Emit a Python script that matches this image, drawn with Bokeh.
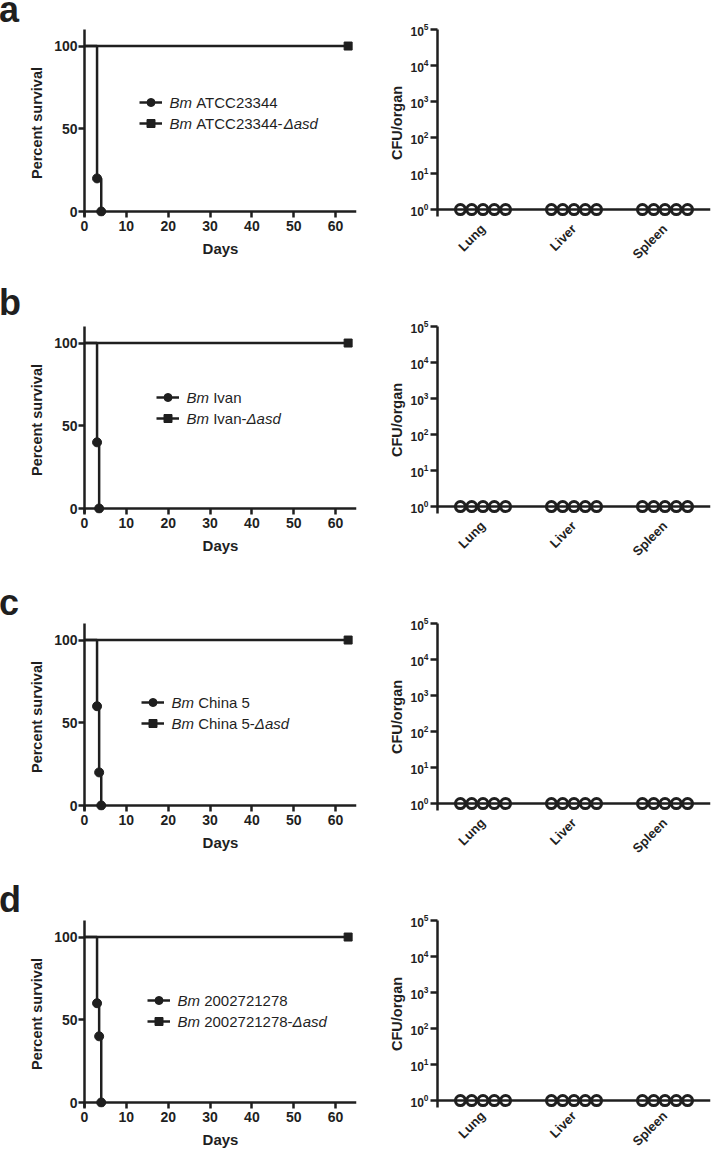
import math
from bokeh.plotting import figure
from bokeh.layouts import column, row
from bokeh.models import (Range1d, FixedTicker, Label, Legend, LegendItem, Span,
                          CustomJSTickFormatter, Div)
from bokeh.embed import file_html
from bokeh.resources import INLINE

# ---------------- data ----------------
panel_letters = ["a", "b", "c", "d"]
strains = ["ATCC23344", "Ivan", "China 5", "2002721278"]
wt_days = [[0, 3, 4], [0, 3, 3.5], [0, 3, 3.5, 4], [0, 3, 3.5, 4]]
wt_survival = [[100, 20, 0], [100, 40, 0], [100, 60, 20, 0], [100, 60, 40, 0]]
mut_days = [0, 63]
mut_survival = [100, 100]
day_ticks = [0, 10, 20, 30, 40, 50, 60]
survival_ticks = [0, 50, 100]
organs = ["Lung", "Liver", "Spleen"]
cfu_lung = [1, 1, 1, 1, 1]
cfu_liver = [1, 1, 1, 1, 1]
cfu_spleen = [1, 1, 1, 1, 1]
cfu_ticks = [1, 10, 100, 1000, 10000, 100000]

# ---------------- layout / style ----------------
FONT = "Liberation Sans"
INK = "#1f1f1f"
LW = 2.5
LETTER_W, LEFT_W, RIGHT_W = 26, 339, 346
LEFT_BORDER, RIGHT_BORDER = 57, 72
FRAME_W = 273
PAGE_H = 1150
fig_heights = [280, 297, 297, 292]      # last row runs past the page and is cropped
frame_top = [29, 46, 46, 46]
letter_baseline = [22, 35, 38, 38]
legend_x = [55, 72, 57, 63]
legend_row1 = [109, 111, 103, 102]
organ_label_standoff = [10, 10, 10, 6]
LEG_PITCH = 21
ZERO_PX = 182      # px from top of survival frame to 0 %
GAP_L = 5          # px of frame below 0 %
DEC_PX = 182 / 5   # px per decade on CFU axis
GAP_R = 7          # px of frame below 10^0
LEG_FS = 15
DODGE = 0.124
LETTER_FS = 36

ARIAL = {' ': 278, '-': 333, 'A': 667, 'B': 667, 'C': 722, 'T': 611, 'I': 278,
         'm': 833, 'h': 556, 'i': 222, 'n': 556, 'a': 556, 'v': 500, 's': 500,
         'd': 556, '\u0394': 667}
for _d in "0123456789":
    ARIAL[_d] = 556


def text_w(s, size):
    return sum(ARIAL.get(c, 556) for c in s) * size / 1000.0


def style_axes(p):
    p.outline_line_color = None
    p.xgrid.visible = False
    p.ygrid.visible = False
    for ax in (p.xaxis[0], p.yaxis[0]):
        ax.axis_line_width = LW
        ax.axis_line_color = INK
        ax.major_tick_line_width = LW
        ax.major_tick_line_color = INK
        ax.minor_tick_line_color = None
        ax.major_label_text_font = FONT
        ax.major_label_text_font_style = "bold"
        ax.major_label_text_color = INK
        ax.axis_label_text_font = FONT
        ax.axis_label_text_font_style = "bold"
        ax.axis_label_text_color = INK


def add_label(p, x, y, text, size, style="normal", baseline="middle"):
    p.add_layout(Label(x=x, y=y, x_units="screen", y_units="screen", text=text,
                       text_font=FONT, text_font_size=f"{size}px",
                       text_font_style=style, text_color=INK,
                       text_baseline=baseline, text_align="left"))


def letter_panel(k):
    H = fig_heights[k]
    base_shift = (0.905 - (0.905 + 0.212) / 2) * LETTER_FS
    pad = letter_baseline[k] - base_shift
    html = (f'<div style="font-family:\'{FONT}\';font-weight:bold;'
            f'font-size:{LETTER_FS}px;line-height:0px;padding-top:{pad:.1f}px;'
            f'margin:0 0 0 -1px;color:{INK}">{panel_letters[k]}</div>')
    return Div(text=html, width=LETTER_W, height=H, margin=0)


def survival_panel(k):
    H = fig_heights[k]
    ft = frame_top[k]
    fh = ZERO_PX + GAP_L
    ppu = ZERO_PX / 110.0
    p = figure(width=LEFT_W, height=H, title=None,
               x_range=Range1d(0, 65), y_range=Range1d(-GAP_L / ppu, 110),
               output_backend="svg", toolbar_location=None,
               min_border_left=LEFT_BORDER,
               min_border_right=LEFT_W - LEFT_BORDER - FRAME_W,
               min_border_top=ft, min_border_bottom=H - ft - fh)
    style_axes(p)
    p.xaxis.ticker = FixedTicker(ticks=day_ticks)
    p.yaxis.ticker = FixedTicker(ticks=survival_ticks)
    p.xaxis.axis_line_color = None
    p.xaxis.major_tick_in = GAP_L
    p.xaxis.major_tick_out = 1
    p.xaxis.major_label_standoff = 3
    p.xaxis.major_label_text_font_size = "14px"
    p.xaxis.axis_label = "Days"
    p.xaxis.axis_label_text_font_size = "15px"
    p.xaxis.axis_label_standoff = 6
    p.yaxis.major_tick_in = 0
    p.yaxis.major_tick_out = 6
    p.yaxis.major_label_standoff = 1
    p.yaxis.major_label_text_font_size = "14px"
    p.yaxis.axis_label = "Percent survival"
    p.yaxis.axis_label_text_font_size = "14.5px"
    p.yaxis.axis_label_standoff = 6
    p.add_layout(Span(location=0, dimension="width", line_color=INK,
                      line_width=LW, level="underlay"))

    wt_line = p.step(wt_days[k], wt_survival[k], mode="after", line_color=INK,
                     line_width=LW)
    wt_pts = p.scatter(wt_days[k][1:], wt_survival[k][1:], marker="circle", size=9,
                       color=INK)
    mut_line = p.line(mut_days, mut_survival, line_color=INK, line_width=LW)
    mut_pts = p.scatter(mut_days[-1:], mut_survival[-1:], marker="square", size=8,
                        color=INK)

    # legend samples
    r1 = legend_row1[k] + GAP_L
    leg = Legend(items=[LegendItem(label=" ", renderers=[wt_line, wt_pts]),
                        LegendItem(label=" ", renderers=[mut_line, mut_pts])],
                 location=(legend_x[k], r1 + 10 - (2 * 20 + 1)),
                 glyph_width=23, glyph_height=20, label_height=20, spacing=1,
                 padding=0, margin=0, border_line_color=None,
                 background_fill_alpha=0, label_text_font_size="10px",
                 label_standoff=0)
    p.add_layout(leg)

    # legend texts (mixed italic)
    pieces = [[("Bm", "italic"), (strains[k], "normal")],
              [("Bm", "italic"), (strains[k] + "-", "normal"), ("\u0394asd", "italic")]]
    for r, parts in enumerate(pieces):
        x = legend_x[k] + 30
        y = r1 - r * LEG_PITCH
        for i, (t, st) in enumerate(parts):
            add_label(p, x, y, t, LEG_FS, st)
            x += text_w(t, LEG_FS)
            if i == 0:
                x += text_w(" ", LEG_FS)
    return p


def cfu_panel(k):
    H = fig_heights[k]
    ft = frame_top[k]
    fh = 5 * DEC_PX + GAP_R
    p = figure(width=RIGHT_W, height=H, title=None, y_axis_type="log",
               x_range=Range1d(0.5, 3.5),
               y_range=Range1d(10 ** (-GAP_R / DEC_PX), 1e5),
               output_backend="svg", toolbar_location=None,
               min_border_left=RIGHT_BORDER,
               min_border_right=RIGHT_W - RIGHT_BORDER - FRAME_W,
               min_border_top=ft, min_border_bottom=int(round(H - ft - fh)))
    style_axes(p)
    p.yaxis.ticker = FixedTicker(ticks=cfu_ticks)
    p.yaxis.major_tick_in = 0
    p.yaxis.major_tick_out = 7
    p.yaxis.major_label_standoff = 2
    p.yaxis.major_label_text_font_size = "12px"
    p.yaxis.axis_label = "CFU/organ"
    p.yaxis.axis_label_text_font_size = "14.5px"
    p.yaxis.axis_label_standoff = 2

    p.xaxis.axis_line_color = None
    p.xaxis.major_tick_line_color = None
    p.xaxis.major_tick_in = 0
    p.xaxis.major_tick_out = 0
    p.xaxis.ticker = FixedTicker(ticks=[i + 1 for i in range(len(organs))])
    p.xaxis.formatter = CustomJSTickFormatter(
        args=dict(names=organs), code="return names[Math.round(tick) - 1] || ''")
    p.xaxis.major_label_orientation = math.pi / 4
    p.xaxis.major_label_text_font_size = "13px"
    p.xaxis.major_label_standoff = organ_label_standoff[k]
    p.add_layout(Span(location=1, dimension="width", line_color=INK,
                      line_width=LW, level="underlay"))

    groups = [cfu_lung, cfu_liver, cfu_spleen]
    for i, vals in enumerate(groups):
        n = len(vals)
        xs = [i + 1 + (j - (n - 1) / 2) * DODGE for j in range(n)]
        p.scatter(xs, vals, marker="circle", size=10, line_width=3,
                  line_color=INK, fill_color=None)
    return p


rows = [row(letter_panel(k), survival_panel(k), cfu_panel(k), spacing=0,
            styles={"flex-shrink": "0"})
        for k in range(4)]
page = column(*rows, spacing=0, width=LETTER_W + LEFT_W + RIGHT_W, height=PAGE_H,
              styles={"overflow": "hidden"})
open("out.html", "w").write(file_html(page, INLINE))
